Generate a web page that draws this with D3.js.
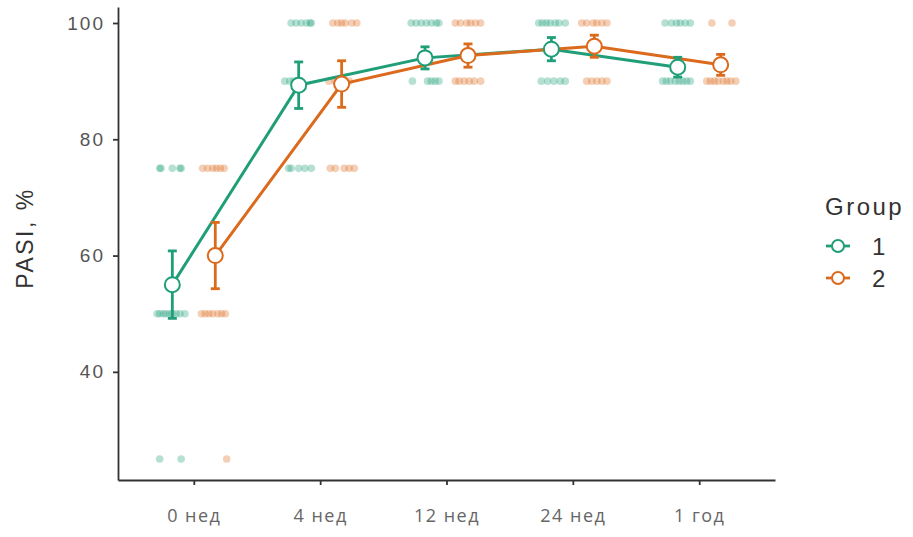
<!DOCTYPE html>
<html>
<head>
<meta charset="utf-8">
<script src="https://cdn.jsdelivr.net/npm/d3@7"></script>
<style>
  body { margin: 0; background: #fff; }
  .chart { width: 913px; height: 537px; }
</style>
</head>
<body>
<div class="chart"></div>
<script>
// время
var times = ['0 нед', '4 нед', '12 нед', '24 нед', '1 год'];
var groups = ['1', '2'];
var yTicks = [40, 60, 80, 100];

// средние и полуширина планки
var mean1 = [55, 89.3, 94.0, 95.5, 92.4];
var err1 = [5.8, 4.0, 1.9, 2.0, 1.7];
var mean2 = [60, 89.5, 94.4, 96.0, 92.8];
var err2 = [5.7, 4.0, 2.0, 1.9, 1.8];

// точки: [время, значение, смещение jitter]
var dots1 = [
  [0, 75, -0.10], [0, 75, -0.09], [0, 75, 0], [0, 75, 0.06], [0, 75, 0.07],
  [0, 50, -0.12], [0, 50, -0.10], [0, 50, -0.07], [0, 50, -0.05], [0, 50, -0.02], [0, 50, 0], [0, 50, 0.03], [0, 50, 0.06], [0, 50, 0.10],
  [0, 25, -0.10], [0, 25, 0.07],
  [1, 100, -0.06], [1, 100, -0.02], [1, 100, 0.02], [1, 100, 0.06], [1, 100, 0.09], [1, 100, 0.10],
  [1, 90, -0.11], [1, 90, -0.07], [1, 90, -0.04],
  [1, 75, -0.08], [1, 75, -0.06], [1, 75, 0], [1, 75, 0.05], [1, 75, 0.10],
  [2, 100, -0.11], [2, 100, -0.07], [2, 100, -0.03], [2, 100, 0.01], [2, 100, 0.05], [2, 100, 0.09], [2, 100, 0.11],
  [2, 90, -0.10], [2, 90, 0.02], [2, 90, 0.05], [2, 90, 0.08], [2, 90, 0.11],
  [3, 100, -0.10], [3, 100, -0.07], [3, 100, -0.04], [3, 100, -0.01], [3, 100, 0.03], [3, 100, 0.06], [3, 100, 0.11],
  [3, 90, -0.08], [3, 90, -0.03], [3, 90, 0.02], [3, 90, 0.07], [3, 90, 0.11],
  [4, 100, -0.10], [4, 100, -0.05], [4, 100, -0.01], [4, 100, 0.02], [4, 100, 0.06], [4, 100, 0.10],
  [4, 90, -0.12], [4, 90, -0.09], [4, 90, -0.06], [4, 90, -0.02], [4, 90, 0.01], [4, 90, 0.04], [4, 90, 0.07], [4, 90, 0.10]
];
var dots2 = [
  [0, 75, -0.10], [0, 75, -0.06], [0, 75, -0.02], [0, 75, 0.01], [0, 75, 0.04], [0, 75, 0.07],
  [0, 50, -0.11], [0, 50, -0.08], [0, 50, -0.05], [0, 50, -0.02], [0, 50, 0.02], [0, 50, 0.05], [0, 50, 0.08],
  [0, 25, 0.09],
  [1, 100, -0.07], [1, 100, -0.03], [1, 100, 0], [1, 100, 0.03], [1, 100, 0.08], [1, 100, 0.12],
  [1, 90, -0.10], [1, 90, -0.05], [1, 90, 0.06],
  [1, 75, -0.09], [1, 75, -0.05], [1, 75, 0.02], [1, 75, 0.06], [1, 75, 0.10],
  [2, 100, -0.10], [2, 100, -0.06], [2, 100, -0.01], [2, 100, 0.02], [2, 100, 0.06], [2, 100, 0.10],
  [2, 90, -0.10], [2, 90, -0.07], [2, 90, -0.03], [2, 90, 0.01], [2, 90, 0.05], [2, 90, 0.10],
  [3, 100, -0.10], [3, 100, -0.06], [3, 100, -0.01], [3, 100, 0.02], [3, 100, 0.06], [3, 100, 0.10],
  [3, 90, -0.06], [3, 90, -0.02], [3, 90, 0.02], [3, 90, 0.06], [3, 90, 0.10],
  [4, 100, -0.07], [4, 100, 0.09],
  [4, 90, -0.11], [4, 90, -0.08], [4, 90, -0.05], [4, 90, -0.02], [4, 90, 0.02], [4, 90, 0.05], [4, 90, 0.08], [4, 90, 0.12]
];

var colors = ['#1f9e78', '#dc6a1c'];
var dodge = [-0.17, 0.17];

var width = 913, height = 537;
var svg = d3.select('.chart').append('svg')
    .attr('width', width)
    .attr('height', height)
    .style('font-family', 'Liberation Sans, Arial, sans-serif');

// x: категории 0..4 с отступом 0.6
var x = d3.scaleLinear().domain([-0.6, times.length - 0.4]).range([118, 775]);
var y = d3.scaleLinear().domain([21.4, 102.75]).range([480, 7]);

var series = [
  {mean: mean1, err: err1, dots: dots1},
  {mean: mean2, err: err2, dots: dots2}
];

//точки
series.forEach(function (s, g) {
    svg.append('g').selectAll('circle')
        .data(s.dots)
        .enter()
        .append('circle')
        .attr('cx', function (d) { return x(d[0] + dodge[g] + d[2]); })
        .attr('cy', function (d) { return y(d[1]); })
        .attr('r', 3.8)
        .style('fill', colors[g])
        .style('opacity', 0.32);
});

// линии средних
var line = d3.line()
    .x(function (d, i) { return x(i + d.off); })
    .y(function (d) { return y(d.v); });

series.forEach(function (s, g) {
    var pts = s.mean.map(function (v) { return {v: v, off: dodge[g]}; });
    svg.append('path')
        .datum(pts)
        .attr('d', line)
        .style('fill', 'none')
        .style('stroke', colors[g])
        .style('stroke-width', 3);
});

// планки ошибок
series.forEach(function (s, g) {
    var eb = svg.append('g').selectAll('g')
        .data(s.mean)
        .enter()
        .append('g')
        .style('stroke', colors[g])
        .style('stroke-width', 2.8);
    eb.append('line')
        .attr('x1', function (d, i) { return x(i + dodge[g]); })
        .attr('x2', function (d, i) { return x(i + dodge[g]); })
        .attr('y1', function (d, i) { return y(d - s.err[i]); })
        .attr('y2', function (d, i) { return y(d + s.err[i]); });
    [-1, 1].forEach(function (sg) {
        eb.append('line')
            .attr('x1', function (d, i) { return x(i + dodge[g]) - 4.5; })
            .attr('x2', function (d, i) { return x(i + dodge[g]) + 4.5; })
            .attr('y1', function (d, i) { return y(d + sg * s.err[i]); })
            .attr('y2', function (d, i) { return y(d + sg * s.err[i]); });
    });
    svg.append('g').selectAll('circle')
        .data(s.mean)
        .enter()
        .append('circle')
        .attr('cx', function (d, i) { return x(i + dodge[g]); })
        .attr('cy', function (d) { return y(d); })
        .attr('r', 7.5)
        .style('fill', '#fff')
        .style('stroke', colors[g])
        .style('stroke-width', 2);
});

// оси
var xAxis = d3.axisBottom(x)
    .tickValues(d3.range(times.length))
    .tickFormat(function (d) { return times[d]; })
    .tickSize(5).tickPadding(24).tickSizeOuter(0);
var gx = svg.append('g').attr('transform', 'translate(0,480)').call(xAxis);
gx.select('.domain').style('stroke', '#333').style('stroke-width', 1.8);
gx.selectAll('.tick line').style('stroke', '#333').style('stroke-width', 1.8);
gx.selectAll('text').style('font-size', '18px').style('fill', '#666')
    .style('letter-spacing', '1.5px')
    .style('font-family', 'Open Sans, sans-serif');

var yAxis = d3.axisLeft(y).tickValues(yTicks).tickSize(5).tickPadding(8).tickSizeOuter(0);
var gy = svg.append('g').attr('transform', 'translate(118,0)').call(yAxis);
gy.select('.domain').style('stroke', '#333').style('stroke-width', 1.8);
gy.selectAll('.tick line').style('stroke', '#333').style('stroke-width', 1.8);
gy.selectAll('text').style('font-size', '19px').style('fill', '#555')
    .style('letter-spacing', '2px');

svg.append('text')
    .text('PASI, %')
    .attr('transform', 'translate(33,238) rotate(-90)')
    .attr('text-anchor', 'middle')
    .style('font-size', '23px')
    .style('letter-spacing', '2.5px')
    .style('fill', '#333');

//легенда
svg.append('text').text('Group')
    .attr('x', 825).attr('y', 215)
    .style('font-size', '24px')
    .style('letter-spacing', '2.5px')
    .style('fill', '#333');
var lg = svg.append('g').selectAll('g')
    .data(groups)
    .enter()
    .append('g')
    .attr('transform', function (d, i) { return 'translate(826,' + (246 + i * 32) + ')'; });
lg.append('line')
    .attr('x1', 0).attr('x2', 24)
    .style('stroke', function (d, i) { return colors[i]; })
    .style('stroke-width', 2.8);
lg.append('circle')
    .attr('cx', 12).attr('r', 6)
    .style('fill', '#fff')
    .style('stroke', function (d, i) { return colors[i]; })
    .style('stroke-width', 2);
lg.append('text')
    .text(function (d) { return d; })
    .attr('x', 46).attr('y', 9)
    .style('font-size', '24px').style('fill', '#333');
</script>
</body>
</html>
